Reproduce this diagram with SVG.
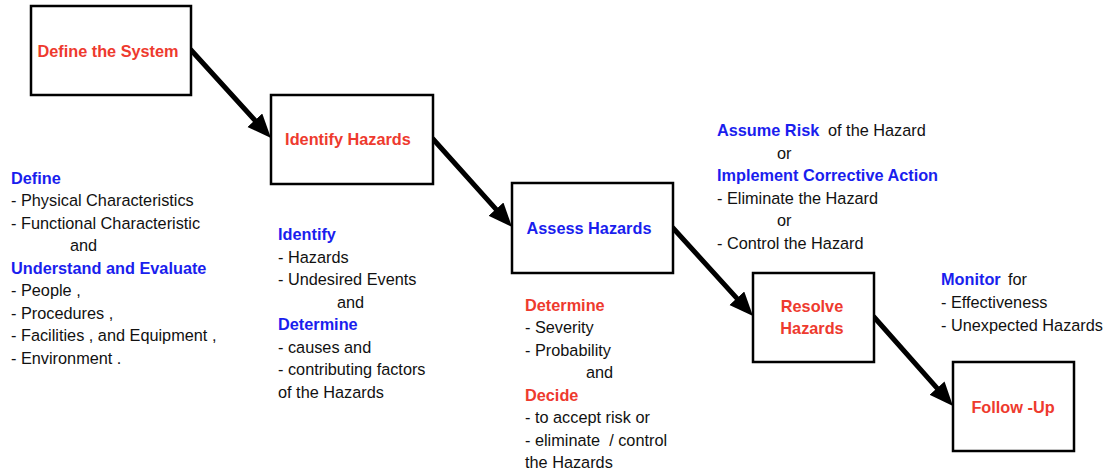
<svg xmlns="http://www.w3.org/2000/svg" width="1107" height="474" viewBox="0 0 1107 474">
<style>
text{font-family:"Liberation Sans",Arial,sans-serif;font-size:16.3px;fill:#111;white-space:pre}
.b{font-weight:bold}
.r{fill:#ee3a2e;font-weight:bold}
.u{fill:#1a1eee;font-weight:bold}
.c{text-anchor:middle}
.box{fill:#fff;stroke:#000;stroke-width:2.5}
.con{stroke:#000;stroke-width:5;fill:none;stroke-linecap:round}
</style>
<defs>
<marker id="ah" markerUnits="userSpaceOnUse" markerWidth="26" markerHeight="22" refX="12" refY="10" orient="auto">
<path d="M0,0 L24,10 L0,20 z" fill="#000"/>
</marker>
</defs>
<g id="connectors">
<line class="con" x1="191" y1="50" x2="262.9" y2="129.1" marker-end="url(#ah)"/>
<line class="con" x1="433" y1="139" x2="504" y2="218.1" marker-end="url(#ah)"/>
<line class="con" x1="673" y1="228" x2="744.9" y2="307.1" marker-end="url(#ah)"/>
<line class="con" x1="874" y1="317" x2="945" y2="397.1" marker-end="url(#ah)"/>
</g>
<g id="define-system">
<rect class="box" x="31" y="6" width="160" height="89"/>
<text class="r c" x="108" y="56.5">Define the System</text>
</g>
<g id="identify-hazards">
<rect class="box" x="271" y="95" width="162" height="89"/>
<text class="r c" x="348" y="145">Identify Hazards</text>
</g>
<g id="assess-hazards">
<rect class="box" x="512" y="183" width="161" height="90"/>
<text class="u c" x="589" y="234">Assess Hazards</text>
</g>
<g id="resolve-hazards">
<rect class="box" x="753" y="273" width="121" height="89"/>
<text class="r c" x="812" y="312">Resolve</text>
<text class="r c" x="812" y="334">Hazards</text>
</g>
<g id="follow-up">
<rect class="box" x="953" y="362" width="121" height="89"/>
<text class="r c" x="1013" y="412.5">Follow -Up</text>
</g>
<g id="define-notes">
<text class="u" x="11" y="183.5">Define</text>
<text x="11" y="206">- Physical Characteristics</text>
<text x="11" y="228.5">- Functional Characteristic</text>
<text x="70" y="251">and</text>
<text class="u" x="11" y="273.5">Understand and Evaluate</text>
<text x="11" y="296">- People ,</text>
<text x="11" y="318.5">- Procedures ,</text>
<text x="11" y="341">- Facilities , and Equipment ,</text>
<text x="11" y="363.5">- Environment .</text>
</g>
<g id="identify-notes">
<text class="u" x="278" y="240">Identify</text>
<text x="278" y="262.5">- Hazards</text>
<text x="278" y="285">- Undesired Events</text>
<text x="337" y="307.5">and</text>
<text class="u" x="278" y="330">Determine</text>
<text x="278" y="352.5">- causes and</text>
<text x="278" y="375">- contributing factors</text>
<text x="278" y="397.5">of the Hazards</text>
</g>
<g id="assess-notes">
<text class="r" x="525" y="310.5">Determine</text>
<text x="525" y="333">- Severity</text>
<text x="525" y="355.5">- Probability</text>
<text x="586" y="378">and</text>
<text class="r" x="525" y="400.5">Decide</text>
<text x="525" y="423">- to accept risk or</text>
<text x="525" y="445.5">- eliminate  / control</text>
<text x="525" y="468">the Hazards</text>
</g>
<g id="resolve-notes">
<text x="717" y="136"><tspan class="u">Assume Risk</tspan><tspan x="828">of the Hazard</tspan></text>
<text x="777" y="158.5">or</text>
<text class="u" x="717" y="181">Implement Corrective Action</text>
<text x="717" y="203.5">- Eliminate the Hazard</text>
<text x="777" y="226">or</text>
<text x="717" y="248.5">- Control the Hazard</text>
</g>
<g id="monitor-notes">
<text x="941" y="285"><tspan class="u">Monitor</tspan><tspan x="1008">for</tspan></text>
<text x="941" y="308">- Effectiveness</text>
<text x="941" y="331">- Unexpected Hazards</text>
</g>
</svg>
